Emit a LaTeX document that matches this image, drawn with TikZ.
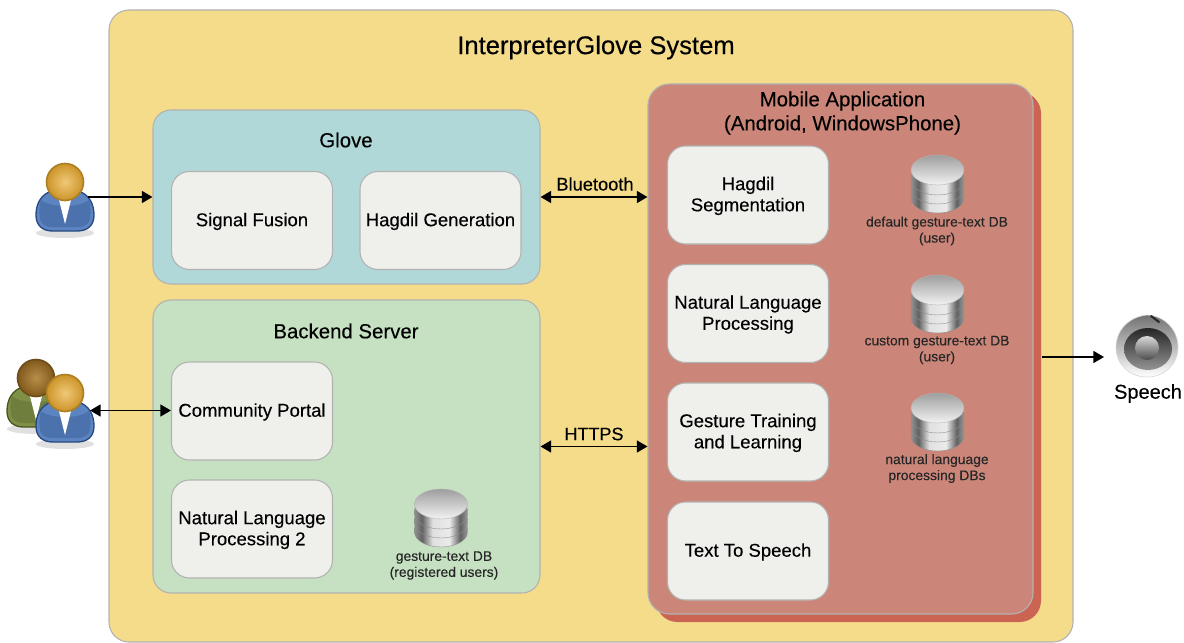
\documentclass[tikz,border=0pt]{standalone}
\usepackage{fontspec}
\setmainfont[FakeBold=0.2]{Liberation Sans}
\usetikzlibrary{arrows.meta}
\pgfdeclarehorizontalshading{dbband}{100bp}{color(0bp)=(black!55); color(22bp)=(black!35); color(32bp)=(black!62); color(42bp)=(black!12); color(58bp)=(black!8); color(68bp)=(black!62); color(78bp)=(black!30); color(100bp)=(black!55)}
\newcommand{\textsz}[1]{\fontsize{#1}{#1}\selectfont}
\tikzset{
  panel/.style={draw=black!30,line width=0.8pt,rounded corners=13.5pt,inner sep=0pt},
  stepbox/.style={panel,fill=boxgray,minimum width=120.75pt,minimum height=73.5pt,align=center,text depth=1.5pt,font=\fontsize{13.9}{15.8}\selectfont},
  dblabel/.style={align=center,font=\fontsize{10.4}{12}\selectfont,text=black!85},
  arrowline/.style={line width=1.3pt,-{Triangle[length=8pt,width=9pt]}},
  bothline/.style={line width=1.3pt,{Triangle[length=8pt,width=9pt]}-{Triangle[length=8pt,width=9pt]}},
  pics/dbstack/.style={code={
    \foreach \dy in {28,19,10}{
      \shade[shading=dbband,draw=black!45,line width=0.3pt] (-25.5,\dy-9) -- (-26.5,\dy-3) -- (-26.5,\dy) arc[start angle=180,end angle=0,x radius=26.5,y radius=15] -- (26.5,\dy-3) -- (25.5,\dy-9) -- cycle;
    }
    \shade[top color=black!38,bottom color=black!5,draw=black!30,line width=0.3pt] (0,0) ellipse [x radius=26.5,y radius=15];
  }},
  pics/usericon/.style n args={4}{code={
    \fill[black!40,opacity=0.3] (0,51) ellipse [x radius=29,y radius=5];
    \draw[draw=#2,fill=#1,line width=1pt] (-13,9) .. controls (-24,12) and (-29,22) .. (-29,33) .. controls (-29,44) and (-22,49) .. (-12,49) -- (12,49) .. controls (22,49) and (29,44) .. (29,33) .. controls (29,22) and (24,12) .. (13,9) -- cycle;
    \fill[#1!70!#2] (-24,18) .. controls (-26,24) and (-26,30) .. (-25,35) .. controls (-25,42) and (-20,45) .. (-12,45) -- (12,45) .. controls (20,45) and (25,42) .. (25,35) .. controls (26,30) and (26,24) .. (24,18) .. controls (15,26) and (-15,26) .. (-24,18) -- cycle;
    \fill[white] (-7,14) -- (7,14) -- (1,38) -- (0,42) -- (-1,38) -- cycle;
    \shade[inner color=#3,outer color=#4,draw=#4!85!black,line width=1.2pt] (0,0) circle [radius=18.5];
  }}
}
\definecolor{sysyellow}{HTML}{F4DC8A}
\definecolor{glovecyan}{HTML}{B0D8D8}
\definecolor{servergreen}{HTML}{C6E0C2}
\definecolor{appred}{HTML}{CB8679}
\definecolor{appback}{HTML}{CC6453}
\definecolor{boxgray}{HTML}{EFEFEB}
\definecolor{userblue}{HTML}{5C84C0}
\definecolor{userbluedark}{HTML}{274A80}
\definecolor{usergreen}{HTML}{7F9048}
\definecolor{usergreendark}{HTML}{4A5520}
\definecolor{headlight}{HTML}{F0C878}
\definecolor{headdark}{HTML}{CC9428}
\definecolor{brownlight}{HTML}{B88E48}
\definecolor{browndark}{HTML}{80591C}
\begin{document}
\begin{tikzpicture}[x=0.75pt,y=0.75pt,yscale=-1,xscale=1]
\useasboundingbox (0,0) rectangle (1184,642);

%Panels
\node (system) [panel,fill=sysyellow,rounded corners=15pt,minimum width=723pt,minimum height=474pt] at (591,326) {};
\node (glove) [panel,fill=glovecyan,minimum width=290.25pt,minimum height=130.5pt] at (346.5,197) {};
\node (server) [panel,fill=servergreen,minimum width=290.25pt,minimum height=219.75pt] at (346.5,446.5) {};
\node (mobileback) [panel,draw=none,fill=appback,rounded corners=16pt,minimum width=288.75pt,minimum height=397.5pt] at (848.5,357) {};
\node (mobile) [panel,fill=appred,rounded corners=16pt,minimum width=288.75pt,minimum height=397.5pt] at (840.5,349) {};

% Text Node
\node (systemtitle) [font=\textsz{19.2}] at (596,47.5) {InterpreterGlove System};
\node (glovetitle) [font=\textsz{15.3}] at (346,140) {Glove};
\node (servertitle) [font=\textsz{15.3}] at (346,331) {Backend Server};
\node (mobiletitle) [align=center,font=\fontsize{15.3}{18}\selectfont] at (842.5,113) {Mobile Application\\(Android, WindowsPhone)};

%Steps
\node (fusion) [stepbox] at (252,220.5) {Signal Fusion};
\node (generation) [stepbox] at (440.5,220.5) {Hagdil Generation};
\node (portal) [stepbox] at (252,411) {Community Portal};
\node (language2) [stepbox] at (252,529) {Natural Language\\Processing 2};
\node (segmentation) [stepbox] at (748,195) {Hagdil\\Segmentation};
\node (language) [stepbox] at (748,313.5) {Natural Language\\Processing};
\node (training) [stepbox] at (748,432) {Gesture Training\\and Learning};
\node (speech) [stepbox] at (748,551) {Text To Speech};

%Databases
\pic [yscale=-1] at (937.5,170) {dbstack};
\pic [yscale=-1] at (937.5,290) {dbstack};
\pic [yscale=-1] at (937.5,408) {dbstack};
\pic [yscale=-1] at (441,504) {dbstack};
\node (defaultdb) [dblabel] at (937,231) {default gesture-text DB\\(user)};
\node (customdb) [dblabel] at (937,350) {custom gesture-text DB\\(user)};
\node (nlpdb) [dblabel] at (937,468.5) {natural language\\processing DBs};
\node (gesturedb) [dblabel] at (444,565.5) {gesture-text DB\\(registered users)};

%Users
\pic [yscale=-1] at (65,182) {usericon={userblue}{userbluedark}{headlight}{headdark}};
\pic [yscale=-1] at (36,378) {usericon={usergreen}{usergreendark}{brownlight}{browndark}};
\pic [yscale=-1] at (65,393) {usericon={userblue}{userbluedark}{headlight}{headdark}};
\coordinate (user) at (88,197);
\coordinate (community) at (90,410.5);

%Speaker
\shade[top color=black!55,bottom color=white,draw=black!15,line width=0.5pt] (1147,315) .. controls (1166,316) and (1178,331) .. (1178,347) .. controls (1178,365) and (1164,377) .. (1147,377) .. controls (1130,377) and (1116,365) .. (1116,347) .. controls (1116,331) and (1128,317) .. (1147,315) -- cycle;
\draw[black!85,line width=1.5pt,line cap=round] (1151,316) -- (1159,322);
\shade[top color=black!85,bottom color=black!42] (1148,349) ellipse [x radius=24,y radius=21];
\shade[top color=black!15,bottom color=black!70] (1147,348) circle [radius=12];
\node (speechlabel) [font=\textsz{15}] at (1148,393.5) {Speech};
\coordinate (speaker) at (1104,357);

%Straight Lines
\draw [arrowline] (user) -- (glove.west);
\draw [bothline] (community) -- (portal.west |- community);
\draw [bothline] (glove.east) -- (mobile.west |- glove.east);
\draw [bothline] (server.east) -- (mobile.west |- server.east);
\draw [arrowline] (mobileback.east) -- (speaker);

% Text Node
\node (bluetooth) [font=\textsz{13.7}] at (595,184) {Bluetooth};
\node (https) [font=\textsz{13.5}] at (594,434) {HTTPS};
\end{tikzpicture}
\end{document}
